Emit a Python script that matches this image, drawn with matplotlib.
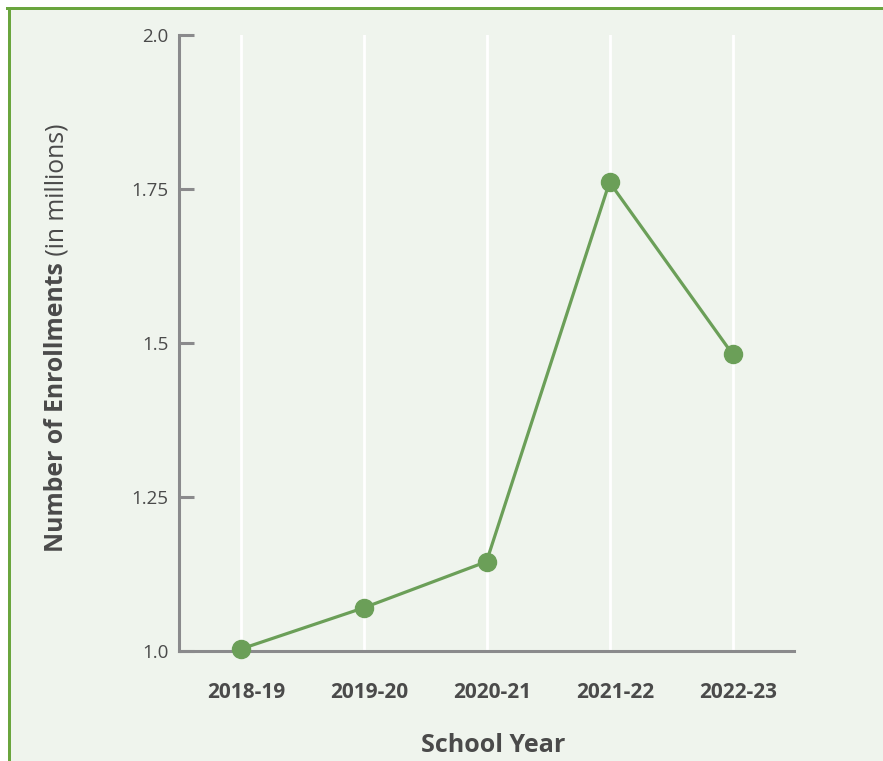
import matplotlib
matplotlib.use("Agg")
import matplotlib.pyplot as plt
from matplotlib.lines import Line2D
from matplotlib.patches import Rectangle
import matplotlib.transforms as mtransforms

# Data
school_years = ["2018-19", "2019-20", "2020-21", "2021-22", "2022-23"]
enrollments = [1.003, 1.07, 1.145, 1.761, 1.482]
y_ticks = [1.0, 1.25, 1.5, 1.75, 2.0]
y_tick_labels = ["1.0", "1.25", "1.5", "1.75", "2.0"]

BG = "#eff4ed"
GREEN = "#6b9f58"
BORDER = "#6aa53e"
TEXT = "#4a4a4a"
GRAY = "#8a8a8c"
FONT = "Open Sans"

plt.rcParams["font.family"] = [FONT, "DejaVu Sans"]

W, H = 883, 761
fig = plt.figure(figsize=(W / 100, H / 100), dpi=100, facecolor="white")

# panel background and border
fig.patches.append(Rectangle((8.5 / W, 0), 1, 1 - 7.5 / H, transform=fig.transFigure,
                             facecolor=BG, edgecolor="none", zorder=-5))
fig.lines.append(Line2D([8.5 / W, 8.5 / W], [0, 1 - 7.5 / H], transform=fig.transFigure,
                        color=BORDER, lw=3 * 0.72, zorder=-4))
fig.lines.append(Line2D([7 / W, 1], [1 - 7.5 / H, 1 - 7.5 / H], transform=fig.transFigure,
                        color=BORDER, lw=3 * 0.72, zorder=-4))

left, right = 179 / W, 794 / W
bottom, top = 1 - 651 / H, 1 - 35 / H
ax = fig.add_axes([left, bottom, right - left, top - bottom])
ax.set_facecolor("none")

x = list(range(len(school_years)))
ax.plot(x, enrollments, color=GREEN, lw=2.3, marker="o", markersize=13,
        markerfacecolor=GREEN, markeredgecolor=GREEN, zorder=3, clip_on=False)

ax.set_xlim(-0.5, len(school_years) - 0.5)
ax.set_ylim(1.0, 2.0)
ax.set_xticks(x)
ax.set_xticklabels(school_years, fontsize=15, fontweight="bold", color=TEXT)
ax.set_yticks(y_ticks)
ax.set_yticklabels(y_tick_labels, fontsize=13.5, color=TEXT)

ax.grid(axis="x", color="white", lw=2, zorder=0)
ax.grid(axis="y", visible=False)
ax.set_axisbelow(True)

for s in ["top", "right"]:
    ax.spines[s].set_visible(False)
ax.spines["left"].set_color(GRAY)
ax.spines["left"].set_linewidth(2.2)
ax.spines["bottom"].set_color(GRAY)
ax.spines["bottom"].set_linewidth(2.2)

ax.tick_params(axis="y", direction="in", length=10.5, width=2.2, color=GRAY, pad=7.5)
ax.tick_params(axis="x", length=0, pad=22)

offset = mtransforms.ScaledTranslation(6 / 100, 0, fig.dpi_scale_trans)
for lab in ax.get_xticklabels():
    lab.set_transform(lab.get_transform() + offset)

# x label
fig.text(493 / W, 1 - 745 / H, "School Year", fontsize=18, fontweight="bold",
         color=TEXT, ha="center", va="center")

# y label (bold + regular)
t1 = fig.text(57 / W, 1 - 552 / H, "Number of Enrollments", fontsize=17.8,
              fontweight="bold", color=TEXT, rotation=90, ha="center", va="bottom")
fig.add_artist(matplotlib.text.Annotation(
    " (in millions)", xy=(0.5, 1.0), xycoords=t1, fontsize=17.8, color=TEXT,
    rotation=90, ha="center", va="bottom", annotation_clip=False))

fig.savefig("out.png", dpi=100, facecolor="white")
